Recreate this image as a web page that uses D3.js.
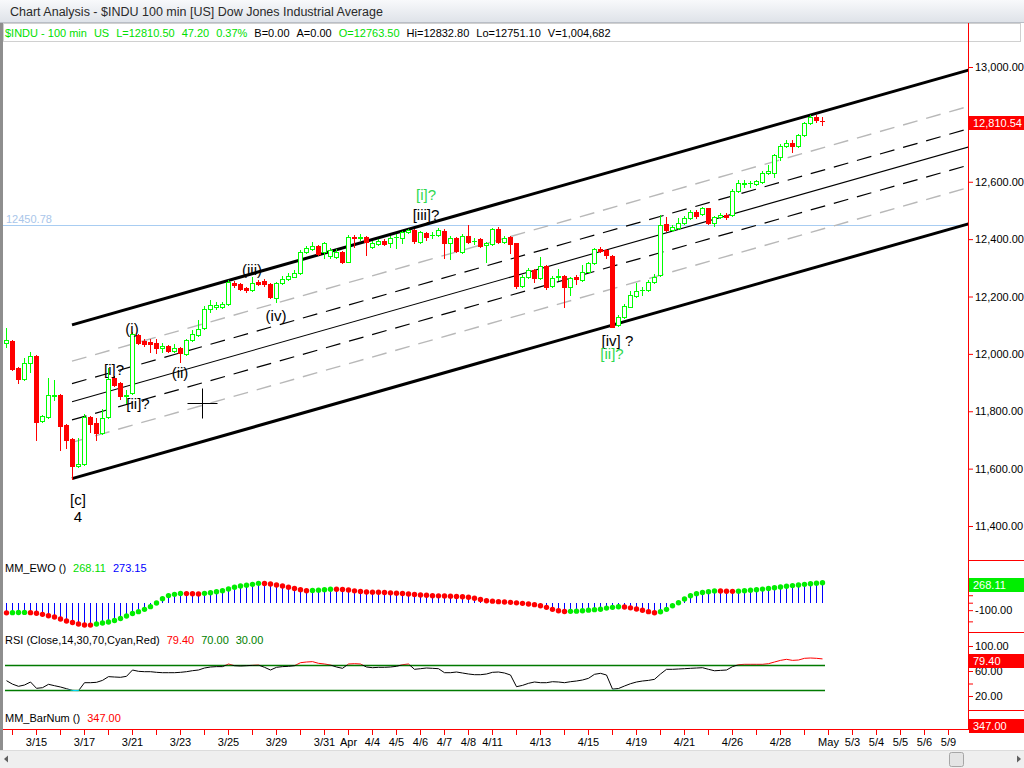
<!DOCTYPE html>
<html><head><meta charset="utf-8">
<script src="https://cdn.jsdelivr.net/npm/d3@7"></script>
<style>
html,body{margin:0;padding:0;background:#fff;overflow:hidden;}
svg{display:block;font-family:"Liberation Sans",Arial,sans-serif;}
</style></head><body>
<svg id="c" width="1024" height="768"></svg>
<script>
// ---------------- DATA ----------------
const openP = [12038,12045,11951,11913,11968,11993,11766,11780,11853,11857,
11752,11703,11609,11616,11780,11759,11724,11780,11916,11899,
11853,11864,12066,12045,12041,12038,12022,12028,12010,12021,
12000,12048,12066,12090,12157,12165,12162,12174,12248,12243,
12229,12223,12252,12255,12244,12194,12246,12260,12269,12281,
12354,12365,12376,12356,12341,12339,12355,12321,12409,12405,
12409,12374,12383,12395,12387,12407,12403,12425,12432,12391,
12421,12413,12414,12429,12386,12403,12356,12411,12392,12399,
12380,12383,12434,12391,12406,12386,12237,12267,12292,12264,
12306,12237,12268,12272,12234,12269,12258,12287,12316,12366,
12362,12341,12101,12128,12165,12202,12221,12223,12252,12275,
12452,12432,12440,12455,12473,12496,12488,12508,12455,12476,
12484,12484,12569,12593,12594,12591,12600,12632,12632,12687,
12725,12736,12725,12763,12806,12827,12813];
const highP = [12090,12048,11954,11986,12007,11996,11787,11916,11909,11860,
11756,11707,11707,11791,11783,11776,11808,11951,11923,11902,
11874,12076,12069,12052,12052,12052,12038,12031,12035,12024,
12052,12083,12118,12167,12188,12181,12181,12258,12254,12247,
12233,12269,12258,12261,12247,12251,12272,12282,12292,12362,
12376,12389,12380,12390,12369,12366,12359,12414,12413,12418,
12411,12394,12399,12401,12411,12418,12430,12437,12435,12430,
12425,12425,12439,12435,12411,12408,12418,12449,12404,12404,
12390,12440,12443,12411,12411,12388,12275,12299,12296,12339,
12310,12272,12295,12275,12268,12275,12310,12320,12369,12372,
12366,12345,12136,12174,12219,12246,12232,12258,12279,12484,
12476,12449,12473,12481,12502,12500,12512,12510,12481,12491,
12490,12575,12606,12606,12604,12606,12638,12658,12697,12732,
12746,12746,12767,12810,12833,12833,12825];
const lowP = [12024,11944,11899,11909,11937,11700,11763,11776,11839,11665,
11672,11564,11606,11613,11728,11700,11721,11776,11888,11843,
11829,11860,12035,12028,12007,12003,12007,12007,12007,11972,
11996,12045,12062,12087,12146,12157,12160,12170,12233,12223,
12216,12219,12240,12237,12194,12180,12244,12258,12268,12279,
12352,12362,12345,12334,12334,12334,12317,12320,12374,12397,
12345,12370,12380,12380,12374,12369,12386,12421,12386,12386,
12397,12404,12411,12334,12331,12355,12353,12386,12383,12372,
12321,12380,12386,12386,12351,12230,12233,12265,12252,12261,
12225,12233,12258,12165,12205,12244,12254,12284,12313,12355,
12333,12092,12097,12125,12162,12198,12205,12219,12247,12272,
12428,12428,12435,12453,12470,12473,12484,12453,12447,12474,
12470,12481,12566,12580,12583,12588,12597,12627,12618,12676,
12721,12705,12721,12760,12803,12809,12798];
const closeP = [12048,11947,11913,11968,11993,11763,11783,11857,11857,11749,
11700,11609,11616,11780,11756,11724,11776,11913,11892,11853,
11857,12069,12038,12035,12035,12021,12026,12010,12021,12003,
12048,12069,12087,12157,12170,12169,12174,12252,12240,12226,
12223,12248,12244,12244,12197,12246,12261,12272,12283,12356,
12368,12377,12348,12386,12362,12356,12320,12409,12403,12407,
12391,12388,12394,12383,12404,12409,12426,12432,12394,12425,
12409,12416,12432,12386,12403,12359,12411,12391,12395,12377,
12386,12434,12391,12403,12383,12237,12269,12292,12264,12306,
12234,12266,12270,12234,12264,12261,12287,12316,12365,12360,
12345,12095,12130,12167,12205,12219,12224,12252,12267,12449,
12432,12443,12455,12473,12496,12482,12508,12455,12476,12484,
12478,12569,12595,12596,12597,12603,12632,12638,12693,12725,
12736,12725,12763,12806,12827,12815,12810.5];
const ewo = [-136,-133,-131,-130,-133,-142,-156,-174,-192,-218,
-245,-265,-285,-299,-300,-286,-272,-258,-238,-212,
-178,-145,-120,-89,-53,-4,54,95,112,123,
122,120,118,125,134,146,161,184,206,224,
235,246,259,257,251,237,224,208,190,175,
161,163,168,175,181,180,177,170,159,150,
143,141,139,137,132,128,123,117,110,103,
99,94,92,90,88,83,79,72,59,43,
27,21,14,9,5,-2,-9,-17,-26,-40,
-62,-89,-107,-118,-116,-113,-107,-100,-93,-87,
-72,-62,-55,-58,-69,-85,-102,-120,-134,-122,
-89,-40,0,50,94,121,136,148,158,156,
154,152,155,160,166,173,182,191,201,211,
220,229,238,246,254,262,268.11];
const rsi = [44.5,39,35.5,37.6,42.4,32.3,33.3,38.7,36.5,34.4,
31.7,29,28.5,41.3,41.3,41.9,45,51,50.4,49.9,
51.5,61.6,59.5,58.9,58.9,57.9,57.3,57.3,57.3,57.9,
58.9,60.5,61.6,64.8,66.4,67,67,71.2,68.5,68,
68.5,69.1,69.6,65.9,61.6,65.9,67,67.5,68.5,73.3,
74.4,75,72.3,71.2,69.6,66.4,64.3,71.2,71.7,71.2,
66.4,65.3,65.9,65.9,66.4,67.5,70.1,71.2,62.7,63.7,
64.8,64.3,63.7,57.3,57.3,58.4,56.8,55.2,54.1,54.1,
55.2,57.9,58.4,56.8,53.6,34.9,37,40.3,42.4,41.3,
41.3,42.9,42.4,41.3,42.9,44,45.6,48.3,54.7,56.3,
53.6,31,32,36,39.7,42.4,44,45,46.7,55.2,
62.7,62.7,63.2,63.7,64.3,64.8,65.3,62.7,60.4,61,
61.6,67,70.1,70.7,70.7,70.7,70.7,71.7,74.4,77,
78.7,77,77.6,80.3,80.8,80.3,79.4];

const priceTicks = [11400,11600,11800,12000,12200,12400,12600,12800,13000];
const ewoTicks = [100,0,-100,-250];
const rsiTicks = [20,40,60,80,100];
const rsiLabelled = [20,60,100];
const dayIdx = d3.range(1,158,4);
const labelIdx = [5,13,21,29,37,45,53,57,61,65,69,73,77,81,89,97,105,113,121,129,137,141,145,149,153,157];
const labelTxt = ['3/15','3/17','3/21','3/23','3/25','3/29','3/31','Apr','4/4','4/5','4/6','4/7','4/8','4/11','4/13','4/15','4/19','4/21','4/26','4/28','May','5/3','5/4','5/5','5/6','5/9'];

const hLevel = 12450.78;
const chanStart = [11, 11565];   // bar, price of lower line start
const chanSlope = 5.945;          // price per bar
const chanWidth = 536;            // price
const chanEnd = 160.6;
const chanFracs = [0, 0.236, 0.382, 0.5, 0.618, 0.764, 1];

const waveText = ['[c]','4','(i)','[i]?','(ii)','[ii]?','(iii)','(iv)','[i]?','[iii]?','[iv] ?','[ii]?'];
const waveBar = [12,12,21,18,29,22,41,45,70,70,101.9,101];
const wavePrice = [11491,11432,12090,11944,11934,11827,12295,12135,12554,12487,12048,12002];
const waveColor = ['#000','#000','#000','#000','#000','#000','#000','#000','#2fd84f','#000','#000','#2fd84f'];
const cursorPos = [32.67, 11829];

const titleText = 'Chart Analysis - $INDU 100 min [US] Dow Jones Industrial Average';
const headerSegs = [['$INDU - 100 min','#00e000'],['US','#00e000'],['L=12810.50','#00e000'],['47.20','#00e000'],['0.37%','#00e000'],['B=0.00','#000'],['A=0.00','#000'],['O=12763.50','#00e000'],['Hi=12832.80','#000'],['Lo=12751.10','#000'],['V=1,004,682','#000']];
const ewoSegs = [['MM_EWO ()','#000'],['268.11','#00dd00'],['273.15','#0000ff']];
const rsiSegs = [['RSI (Close,14,30,70,Cyan,Red)','#000'],['79.40','#ff0000'],['70.00','#008000'],['30.00','#008000']];
const barSegs = [['MM_BarNum ()','#000'],['347.00','#ff0000']];
const lastPriceLabel = '12,810.54';
const lastEwoLabel = '268.11';
const lastRsiLabel = '79.40';
const barNumLabel = '347.00';

// ---------------- DRAW ----------------
const FONT = '"Liberation Sans", Arial, sans-serif';
const svg = d3.select('#c');
const defs = svg.append('defs');
const gr = defs.append('linearGradient').attr('id','tb').attr('x1',0).attr('y1',0).attr('x2',0).attr('y2',1);
gr.append('stop').attr('offset','0%').attr('stop-color','#f8f9fb');
gr.append('stop').attr('offset','100%').attr('stop-color','#dfe3e9');
defs.append('clipPath').attr('id','mainClip').append('rect').attr('x',3).attr('y',43).attr('width',965).attr('height',517);

const x = d3.scaleLinear().domain([0,157]).range([6,948]);
const y = d3.scaleLinear().domain([11400,13000]).range([526,67]);
const yE = d3.scaleLinear().domain([-300,300]).range([625.1,580.3]);
const yR = d3.scaleLinear().domain([0,100]).range([708.5,646]);

// title bar
svg.append('rect').attr('width',1024).attr('height',22).attr('fill','url(#tb)');
svg.append('line').attr('x1',0).attr('x2',1024).attr('y1',22.5).attr('y2',22.5).attr('stroke','#b9bec6');
svg.append('text').attr('x',10).attr('y',16).attr('font-size',12.5).attr('fill','#2a2a2a').text(titleText);

function segText(x0, yb, segs, gap){
  const t = svg.append('text').attr('x',x0).attr('y',yb).attr('font-size',11).attr('font-family',FONT);
  segs.forEach((s,k)=> t.append('tspan').attr('dx', k ? gap : 0).attr('fill', s[1]).text(s[0]));
}
// header
svg.append('rect').attr('x',3.5).attr('y',23.5).attr('width',1017).attr('height',18).attr('fill','#fff').attr('stroke','#d0d0d0');
segText(5, 36.5, headerSegs, 7);

// left frame bar
svg.append('rect').attr('x',0).attr('y',23).attr('width',3).attr('height',727).attr('fill','#8e8e8e');

const main = svg.append('g').attr('clip-path','url(#mainClip)');
// horizontal level
const hy = Math.round(y(hLevel)) + 0.5;
main.append('line').attr('x1',3).attr('x2',968).attr('y1',hy).attr('y2',hy).attr('stroke','#a8cdf2').attr('stroke-width',1);
svg.append('text').attr('x',6).attr('y',hy-3).attr('font-size',11).attr('fill','#a9c6ea').text(hLevel.toFixed(2));

// channel
const chanP = (b,f) => chanStart[1] + chanSlope*(b - chanStart[0]) + chanWidth*f;
chanFracs.forEach(f => {
  const ln = main.append('line')
    .attr('x1', x(chanStart[0])).attr('y1', y(chanP(chanStart[0], f)))
    .attr('x2', x(chanEnd)).attr('y2', y(chanP(chanEnd, f)));
  if (f === 0 || f === 1) ln.attr('stroke','#000').attr('stroke-width',3);
  else if (f === 0.5) ln.attr('stroke','#000').attr('stroke-width',1.1);
  else if (f === 0.382 || f === 0.618) ln.attr('stroke','#000').attr('stroke-width',1.2).attr('stroke-dasharray','15,9');
  else ln.attr('stroke','#b8b8b8').attr('stroke-width',1.4).attr('stroke-dasharray','15,9');
});

// candles
const GREEN = '#00ff00', RED = '#ff0000';
const cg = main.append('g').attr('shape-rendering','crispEdges');
openP.forEach((o,i) => {
  const c = closeP[i], h = highP[i], l = lowP[i];
  const cx = Math.round(x(i));
  const up = c >= o;
  const col = up ? GREEN : RED;
  const yt = Math.round(y(Math.max(o,c))), yb = Math.round(y(Math.min(o,c)));
  cg.append('line').attr('x1',cx+0.5).attr('x2',cx+0.5).attr('y1',Math.round(y(h))).attr('y2',Math.round(y(l))+1).attr('stroke',col);
  if (yb - yt < 2) {
    cg.append('rect').attr('x',cx-2).attr('y',yt).attr('width',5).attr('height',Math.max(1,yb-yt+1)).attr('fill',col);
  } else if (up) {
    cg.append('rect').attr('x',cx-1.5).attr('y',yt+0.5).attr('width',4).attr('height',yb-yt).attr('fill','#fff').attr('stroke',col);
  } else {
    cg.append('rect').attr('x',cx-2).attr('y',yt).attr('width',5).attr('height',yb-yt+1).attr('fill',col);
  }
});

// wave labels
waveText.forEach((t,k) => {
  svg.append('text').attr('x', x(waveBar[k])).attr('y', y(wavePrice[k])).attr('font-size',15)
    .attr('text-anchor','middle').attr('dominant-baseline','central').attr('fill', waveColor[k]).text(t);
});

// cursor
const cpx = Math.round(x(cursorPos[0])) + 0.5, cpy = Math.round(y(cursorPos[1])) + 0.5;
main.append('line').attr('x1',cpx-15).attr('x2',cpx+15).attr('y1',cpy).attr('y2',cpy).attr('stroke','#000');
main.append('line').attr('x1',cpx).attr('x2',cpx).attr('y1',cpy-15).attr('y2',cpy+15).attr('stroke','#000');

// ---- EWO panel
segText(5, 572, ewoSegs, 7);
const eg = svg.append('g');
ewo.forEach((v,i) => {
  const cx = Math.round(x(i)) + 0.5;
  eg.append('line').attr('x1',cx).attr('x2',cx).attr('y1',yE(0)).attr('y2',yE(v)).attr('stroke','#0000ff').attr('stroke-width',1).attr('shape-rendering','crispEdges');
});
ewo.forEach((v,i) => {
  const cx = Math.round(x(i)) + 0.5;
  const rising = i > 0 && v >= ewo[i-1];
  eg.append('circle').attr('cx',cx).attr('cy',yE(v)).attr('r',2.7).attr('fill', rising ? '#00ee00' : '#ff0000');
});

// ---- RSI panel
segText(5, 644, rsiSegs, 7);
[70,30].forEach(v => {
  svg.append('line').attr('x1',5).attr('x2',x(rsi.length-1)+3).attr('y1',Math.round(yR(v))+0.5).attr('y2',Math.round(yR(v))+0.5)
    .attr('stroke','#007a00').attr('stroke-width',1.3);
});
defs.append('clipPath').attr('id','rHi').append('rect').attr('x',0).attr('y',600).attr('width',1024).attr('height',yR(70)-600);
defs.append('clipPath').attr('id','rMid').append('rect').attr('x',0).attr('y',yR(70)).attr('width',1024).attr('height',yR(30)-yR(70));
defs.append('clipPath').attr('id','rLo').append('rect').attr('x',0).attr('y',yR(30)).attr('width',1024).attr('height',60);
const rline = d3.line().x((d,i)=>Math.round(x(i))+0.5).y(d=>yR(d));
[['rHi','#ff0000'],['rMid','#000'],['rLo','#00d8ff']].forEach(([id,col]) => {
  svg.append('path').attr('d', rline(rsi)).attr('fill','none').attr('stroke',col).attr('stroke-width',1).attr('clip-path',`url(#${id})`);
});

// ---- BarNum panel
segText(5, 722, barSegs, 7);

// ---- right axes
function styleAxis(g){
  g.attr('font-size',11).attr('font-family',FONT);
  g.select('.domain').remove();
  g.selectAll('line').attr('stroke','#ff0000');
  g.selectAll('text').attr('fill','#000');
}
svg.append('g').attr('transform','translate(968,0)')
  .call(d3.axisRight(y).tickValues(priceTicks).tickFormat(d3.format(',.2f')).tickSize(5).tickPadding(2)).call(styleAxis);
svg.append('g').attr('transform','translate(968,0)')
  .call(d3.axisRight(yE).tickValues(ewoTicks).tickFormat(d => d === -100 ? '-100.00' : '').tickSize(5).tickPadding(2)).call(styleAxis);
svg.append('g').attr('transform','translate(968,0)')
  .call(d3.axisRight(yR).tickValues(rsiTicks).tickFormat(d => rsiLabelled.includes(d) ? d.toFixed(2) : '').tickSize(5).tickPadding(2)).call(styleAxis);

function valueBox(yc, fill, txt){
  svg.append('rect').attr('x',969).attr('y',Math.round(yc)-5).attr('width',55).attr('height',14).attr('fill',fill);
  svg.append('text').attr('x',973).attr('y',Math.round(yc)+6).attr('font-size',11).attr('fill','#fff').text(txt);
}
valueBox(y(closeP[closeP.length-1]), '#ff0000', lastPriceLabel);
valueBox(yE(ewo[ewo.length-1]), '#00ee00', lastEwoLabel);
valueBox(yR(rsi[rsi.length-1]), '#ff0000', lastRsiLabel);
valueBox(724, '#ff0000', barNumLabel);

// separators & frame lines
[560,632,710].forEach(v => svg.append('line').attr('x1',968).attr('x2',1024).attr('y1',v+0.5).attr('y2',v+0.5).attr('stroke','#ff0000'));
svg.append('line').attr('x1',968.5).attr('x2',968.5).attr('y1',23).attr('y2',730).attr('stroke','#ff0000');
svg.append('line').attr('x1',3).attr('x2',969).attr('y1',729.5).attr('y2',729.5).attr('stroke','#ff0000');

// x axis
const lblMap = {};
labelIdx.forEach((v,k)=> lblMap[v] = labelTxt[k]);
const xa = svg.append('g').attr('transform','translate(0,729)')
  .call(d3.axisBottom(x).tickValues(dayIdx).tickFormat(i => lblMap[i] || '').tickSize(6).tickPadding(3));
styleAxis(xa);

// scrollbar
svg.append('rect').attr('x',0).attr('y',750).attr('width',1024).attr('height',18).attr('fill','#efefef');
svg.append('line').attr('x1',0).attr('x2',1024).attr('y1',750.5).attr('y2',750.5).attr('stroke','#dcdcdc');
svg.append('rect').attr('x',949.5).attr('y',752.5).attr('width',14).attr('height',14).attr('rx',2).attr('fill','#e4e4e4').attr('stroke','#a6a6a6');
svg.append('path').attr('d','M4,759 L8,755.5 L8,762.5 Z').attr('fill','#606060');
svg.append('path').attr('d','M1021,759 L1017,755.5 L1017,762.5 Z').attr('fill','#606060');
</script>
</body></html>
